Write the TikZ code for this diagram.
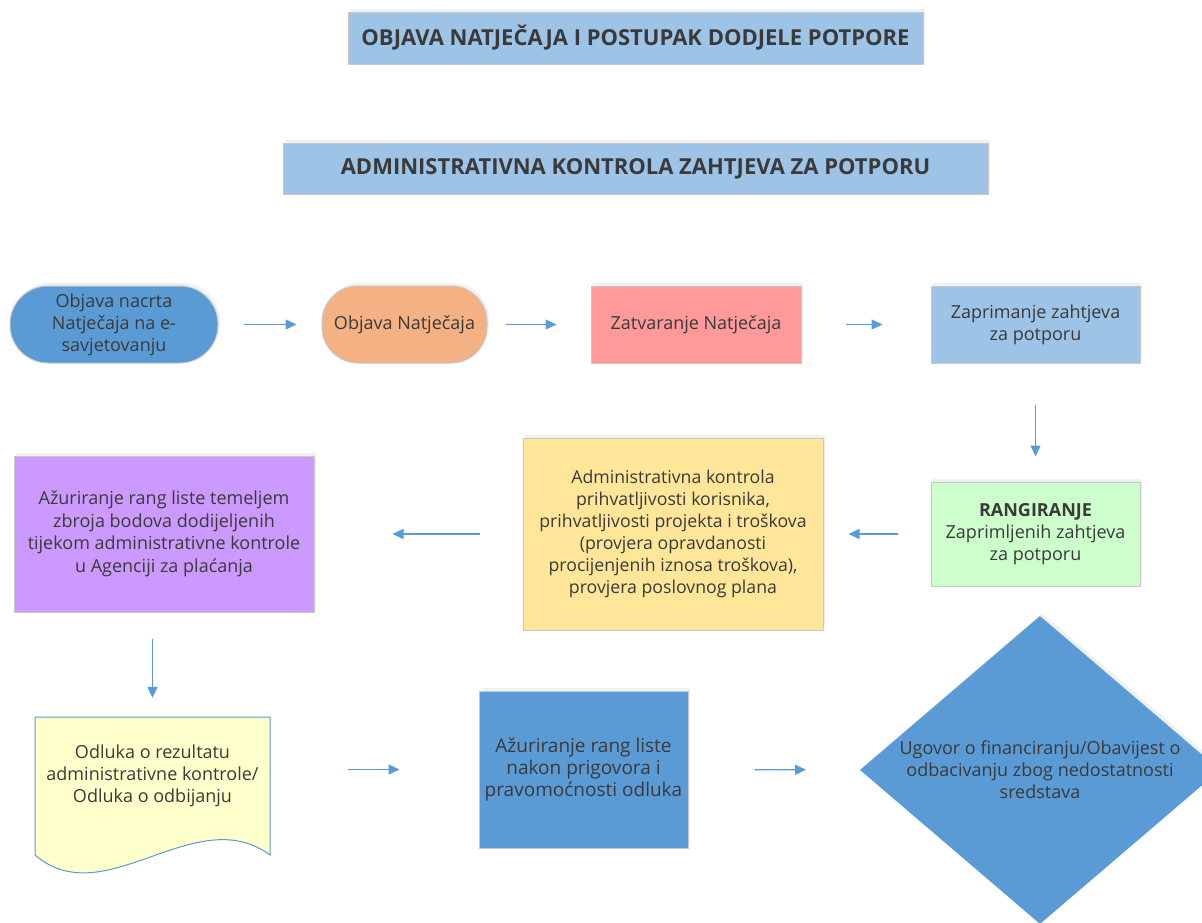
\documentclass[tikz,border=0pt]{standalone}
\usepackage{fontspec}
\setmainfont{Open Sans}
\usetikzlibrary{arrows.meta,shapes.geometric,shadows}
\definecolor{titleblue}{HTML}{9DC3E6}
\definecolor{midblue}{HTML}{5B9BD5}
\definecolor{orangebox}{HTML}{F4B183}
\definecolor{pinkbox}{HTML}{FF999A}
\definecolor{greenbox}{HTML}{CCFFCC}
\definecolor{yellowbox}{HTML}{FFE699}
\definecolor{purplebox}{HTML}{CC99FF}
\definecolor{docbox}{HTML}{FFFFCC}
\definecolor{txt}{HTML}{3A3A3A}
\definecolor{edge}{HTML}{C8C8C8}
\tikzset{
  box/.style={draw=edge, line width=1pt, text=txt, align=center, inner sep=0pt,
    font=\fontsize{18}{22}\selectfont,
    drop shadow={opacity=0.12, shadow xshift=2pt, shadow yshift=3pt}},
  titlebox/.style={box, fill=titleblue, font=\fontsize{22}{26}\selectfont\bfseries},
  lbl/.style={text=txt, align=center, inner sep=0pt, font=\fontsize{18}{22}\selectfont},
  arr/.style={draw=midblue, line width=1.4pt, -{Triangle[length=11pt,width=10pt]}}
}
\begin{document}
\begin{tikzpicture}[x=1pt,y=-1pt]
\useasboundingbox (0,0) rectangle (1202,922);
\clip (0,0) rectangle (1202,922);
% titles
\node[titlebox, minimum width=575, minimum height=52] (t1) at (635.5,38) {OBJAVA NATJEČAJA I POSTUPAK DODJELE POTPORE};
\node[titlebox, minimum width=705, minimum height=51] (t2) at (635.5,168.5) {ADMINISTRATIVNA KONTROLA ZAHTJEVA ZA POTPORU};
% row 1
\node[box, fill=midblue, rounded corners=38pt, minimum width=208, minimum height=77] (n1) at (114,324.5) {Objava nacrta\\Natječaja na e-\\savjetovanju};
\node[box, fill=orangebox, rounded corners=36pt, minimum width=165, minimum height=77] (n2) at (404.5,324.5) {Objava Natječaja};
\node[box, fill=pinkbox, minimum width=210, minimum height=77] (n3) at (696,324.5) {Zatvaranje Natječaja};
\node[box, fill=titleblue, minimum width=209, minimum height=77] (n4) at (1035.5,324.5) {Zaprimanje zahtjeva\\za potporu};
% row 2
\node[box, fill=greenbox, minimum width=209, minimum height=104] (n5) at (1035.5,534) {\textbf{RANGIRANJE}\\Zaprimljenih zahtjeva\\za potporu};
\node[box, fill=yellowbox, minimum width=300, minimum height=192, font=\fontsize{17.7}{22}\selectfont] (n6) at (673,534) {Administrativna kontrola\\prihvatljivosti korisnika,\\prihvatljivosti projekta i troškova\\(provjera opravdanosti\\procijenjenih iznosa troškova),\\provjera poslovnog plana};
\node[box, fill=purplebox, minimum width=300, minimum height=156, font=\fontsize{18}{22.5}\selectfont] (n7) at (164,534) {Ažuriranje rang liste temeljem\\zbroja bodova dodijeljenih\\tijekom administrativne kontrole\\u Agenciji za plaćanja};
% row 3
\fill[docbox, draw=midblue, line width=1pt] (35,717) -- (270,717) -- (270,855) .. controls (195,800) and (105,915) .. (35,855) -- cycle;
\node[minimum width=235, minimum height=138, inner sep=0pt] (doc) at (152.5,786) {};
\node[lbl] (doctext) at (152.5,776) {Odluka o rezultatu\\administrativne kontrole/\\Odluka o odbijanju};
\node[box, fill=midblue, minimum width=209, minimum height=157, font=\fontsize{19}{22}\selectfont] (n8) at (583.5,769.5) {Ažuriranje rang liste\\nakon prigovora i\\pravomoćnosti odluka};
\node[diamond, fill=midblue, inner sep=0pt, minimum width=360, minimum height=308,
  drop shadow={opacity=0.12, shadow xshift=2pt, shadow yshift=3pt}] (dia) at (1040,770) {};
\node[lbl] (diatext) at (dia.center) {Ugovor o financiranju/Obavijest o\\odbacivanju zbog nedostatnosti\\sredstava};
% arrows
\draw[arr, shorten <=25pt, shorten >=25pt] (n1) -- (n2);
\draw[arr, shorten <=18pt, shorten >=34pt] (n2) -- (n3);
\draw[arr, shorten <=44pt, shorten >=48pt] (n3) -- (n4);
\draw[arr, shorten <=41pt, shorten >=25pt] (n4) -- (n5);
\draw[arr, shorten <=33pt, shorten >=25pt] (n5) -- (n6);
\draw[arr, shorten <=43pt, shorten >=78pt] (n6) -- (n7);
\draw[arr, shorten <=26pt, shorten >=19pt] (n7.south -| doc.north) -- (doc.north);
\draw[arr, shorten <=78pt, shorten >=79pt] (doc.east |- n8.west) -- (n8.west);
\draw[arr, shorten <=66pt, shorten >=54pt] (n8) -- (dia);
\end{tikzpicture}
\end{document}
